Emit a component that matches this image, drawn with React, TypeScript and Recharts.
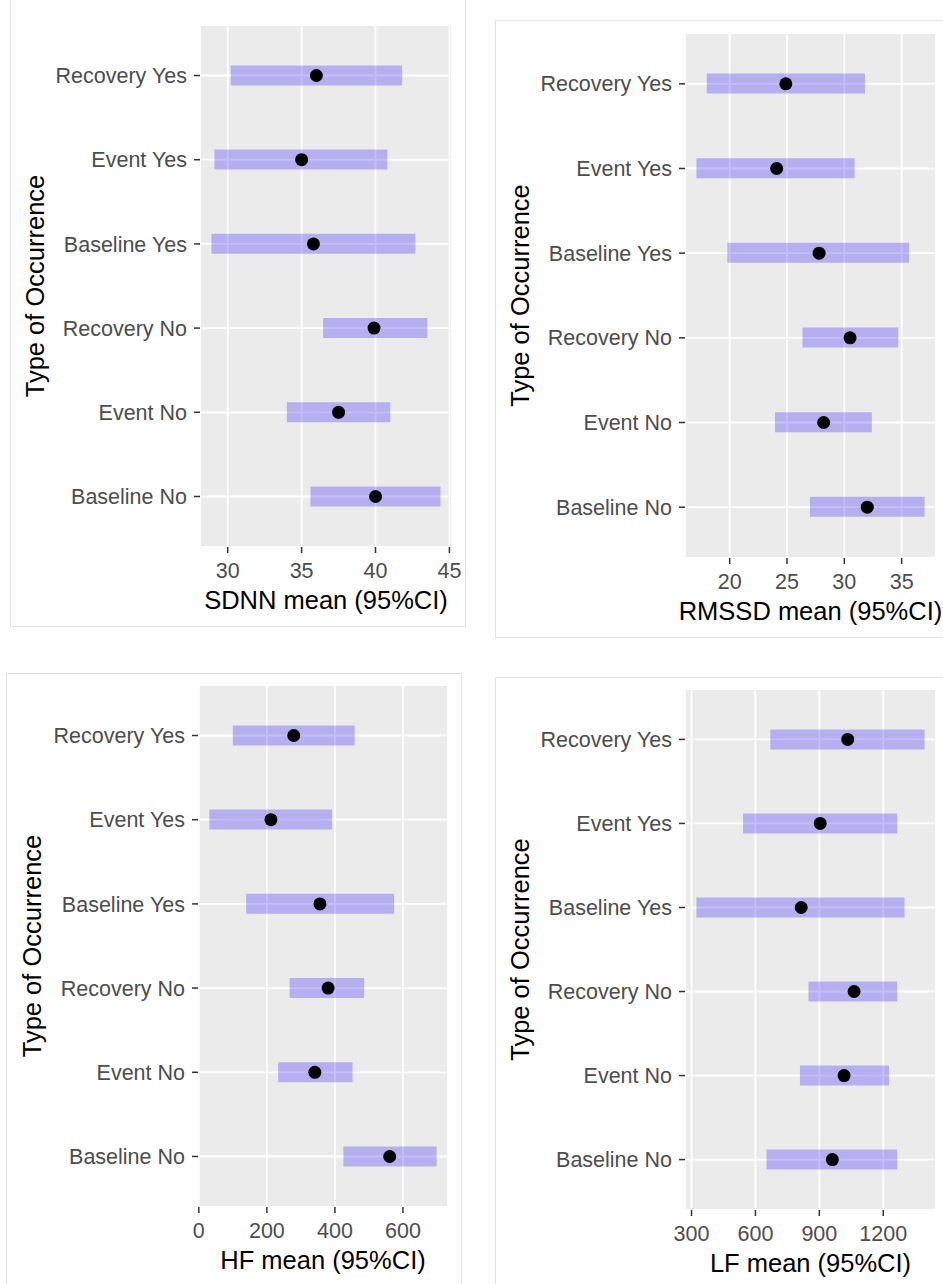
import { ComposedChart, Bar, Line, XAxis, YAxis, CartesianGrid, Label } from "recharts";

const categories = ["Recovery Yes", "Event Yes", "Baseline Yes", "Recovery No", "Event No", "Baseline No"];

const sdnnMean = [36.0, 35.0, 35.8, 39.9, 37.5, 40.0];
const sdnnLow = [30.2, 29.1, 28.9, 36.45, 34.0, 35.6];
const sdnnHigh = [41.8, 40.8, 42.7, 43.5, 41.0, 44.4];
const sdnnTicks = [30, 35, 40, 45];
const sdnnMinor = [32.5, 37.5, 42.5];

const rmssdMean = [24.9, 24.1, 27.8, 30.5, 28.2, 32.0];
const rmssdLow = [18.0, 17.1, 19.8, 26.35, 23.95, 27.0];
const rmssdHigh = [31.8, 30.9, 35.65, 34.7, 32.4, 37.0];
const rmssdTicks = [20, 25, 30, 35];
const rmssdMinor = [17.5, 22.5, 27.5, 32.5, 37.5];

const hfMean = [279, 212, 356, 380, 341, 561];
const hfLow = [100, 31, 139, 267, 233, 425];
const hfHigh = [458, 392, 574, 486, 452, 699];
const hfTicks = [0, 200, 400, 600];
const hfMinor = [100, 300, 500, 700];

const lfMean = [1033, 904, 815, 1063, 1016, 961];
const lfLow = [670, 542, 323, 849, 809, 652];
const lfHigh = [1394, 1265, 1300, 1265, 1227, 1265];
const lfTicks = [300, 600, 900, 1200];
const lfMinor = [450, 750, 1050, 1350];

const FONT = '"Liberation Sans", Arial, Helvetica, sans-serif';

// ggplot-style 5% expansion of the data range
function expand(lo: number[], hi: number[]): [number, number] {
  const mn = Math.min(...lo);
  const mx = Math.max(...hi);
  const pad = (mx - mn) * 0.05;
  return [mn - pad, mx + pad];
}

type Box = { left: number; top: number; width: number; height: number };

type PanelProps = {
  title: string;
  low: number[];
  mean: number[];
  high: number[];
  ticks: number[];
  minor: number[];
  box: Box;
  frame: Box;
  top: number;
  right: number;
  yW: number;
  xH: number;
  titleOff: number;
};

function Panel(p: PanelProps) {
  const data = categories.map((name, i) => ({ name, ci: [p.low[i], p.high[i]], mean: p.mean[i] }));
  const domain = expand(p.low, p.high);
  const plotH = p.box.height - p.top - p.xH;
  const pad = (plotH * 0.1) / 6.2;
  return (
    <>
      <div
        style={{
          position: "absolute",
          left: p.frame.left,
          top: p.frame.top,
          width: p.frame.width,
          height: p.frame.height,
          border: "1px solid #e2e2e2",
          boxSizing: "border-box",
        }}
      />
      <div style={{ position: "absolute", left: p.box.left, top: p.box.top }}>
        <ComposedChart
          layout="vertical"
          width={p.box.width}
          height={p.box.height}
          data={data}
          margin={{ top: p.top, right: p.right, bottom: 0, left: 0 }}
        >
          <CartesianGrid xAxisId="minor" horizontal={false} fill="#EBEBEB" stroke="#ffffff" strokeWidth={0.9} />
          <CartesianGrid stroke="#ffffff" strokeWidth={1.8} />
          <XAxis
            type="number"
            domain={domain}
            ticks={p.ticks}
            interval={0}
            height={p.xH}
            axisLine={false}
            tickSize={6}
            tickMargin={10}
            tickLine={{ stroke: "#333333", strokeWidth: 1.5 }}
            tick={{ fill: "#4D4D4D", fontSize: 21.5, fontFamily: FONT }}
          >
            <Label
              value={p.title}
              position="insideBottom"
              offset={p.titleOff}
              fill="#000000"
              fontSize={25.5}
              fontFamily={FONT}
            />
          </XAxis>
          <XAxis
            xAxisId="minor"
            type="number"
            domain={domain}
            ticks={p.minor}
            interval={0}
            height={0}
            tick={false}
            tickLine={false}
            axisLine={false}
          />
          <YAxis
            type="category"
            dataKey="name"
            width={p.yW}
            interval={0}
            axisLine={false}
            tickSize={6}
            tickMargin={7}
            tickLine={{ stroke: "#333333", strokeWidth: 1.5 }}
            tick={{ fill: "#4D4D4D", fontSize: 21.5, fontFamily: FONT }}
            padding={{ top: pad, bottom: pad }}
          >
            <Label
              value="Type of Occurrence"
              angle={-90}
              position="insideLeft"
              offset={25}
              fill="#000000"
              fontSize={25.5}
              fontFamily={FONT}
              style={{ textAnchor: "middle" }}
            />
          </YAxis>
          <Bar dataKey="ci" fill="#2a14ff" fillOpacity={0.28} barSize={20} isAnimationActive={false} />
          <Line
            dataKey="mean"
            stroke="none"
            dot={{ r: 6.5, fill: "#000000", stroke: "none" }}
            activeDot={false}
            isAnimationActive={false}
          />
        </ComposedChart>
      </div>
    </>
  );
}

export default function App() {
  return (
    <div
      style={{
        position: "absolute",
        left: 0,
        top: 0,
        width: 943,
        height: 1284,
        overflow: "hidden",
        background: "#ffffff",
        fontFamily: FONT,
      }}
    >
      <Panel
        title="SDNN mean (95%CI)"
        low={sdnnLow}
        mean={sdnnMean}
        high={sdnnHigh}
        ticks={sdnnTicks}
        minor={sdnnMinor}
        box={{ left: 10, top: 0, width: 456, height: 627 }}
        frame={{ left: 10, top: -1, width: 456, height: 628 }}
        top={25}
        right={14}
        yW={190}
        xH={80}
        titleOff={18}
      />
      <Panel
        title="RMSSD mean (95%CI)"
        low={rmssdLow}
        mean={rmssdMean}
        high={rmssdHigh}
        ticks={rmssdTicks}
        minor={rmssdMinor}
        box={{ left: 495, top: 20, width: 448, height: 617 }}
        frame={{ left: 495, top: 20, width: 460, height: 618 }}
        top={13}
        right={7}
        yW={190}
        xH={79}
        titleOff={17}
      />
      <Panel
        title="HF mean (95%CI)"
        low={hfLow}
        mean={hfMean}
        high={hfHigh}
        ticks={hfTicks}
        minor={hfMinor}
        box={{ left: 7, top: 673, width: 455, height: 611 }}
        frame={{ left: 6, top: 673, width: 456, height: 620 }}
        top={12}
        right={14}
        yW={191}
        xH={77}
        titleOff={15}
      />
      <Panel
        title="LF mean (95%CI)"
        low={lfLow}
        mean={lfMean}
        high={lfHigh}
        ticks={lfTicks}
        minor={lfMinor}
        box={{ left: 495, top: 677, width: 448, height: 607 }}
        frame={{ left: 495, top: 677, width: 460, height: 620 }}
        top={12}
        right={7}
        yW={190}
        xH={74}
        titleOff={12}
      />
    </div>
  );
}
